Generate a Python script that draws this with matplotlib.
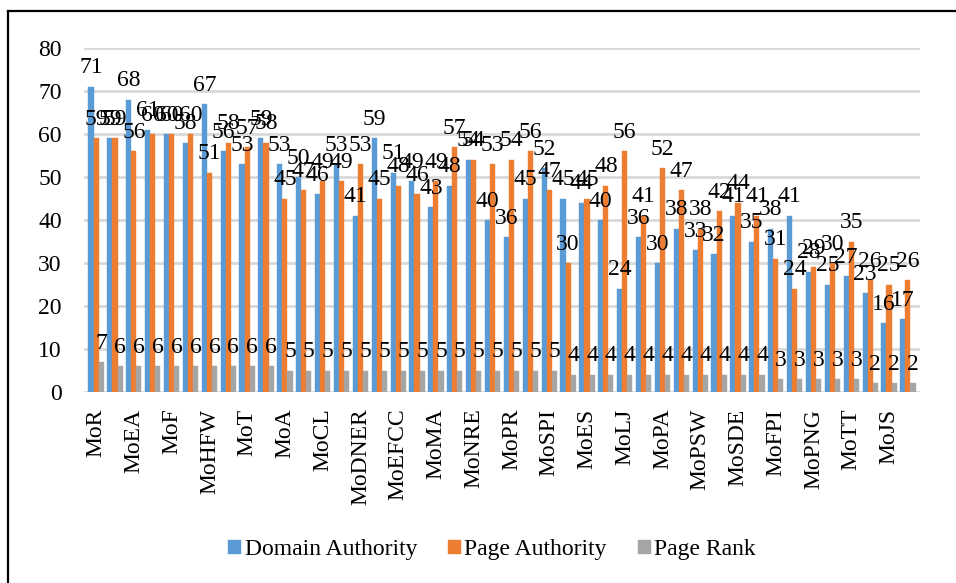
import numpy as np
import matplotlib
matplotlib.use("Agg")
import matplotlib.pyplot as plt
from matplotlib.lines import Line2D

plt.rcParams['font.family'] = ['Liberation Serif', 'DejaVu Serif']

# Ministry abbreviations printed on the axis (every second column is labelled)
tick_labels = ["MoR", "MoEA", "MoF", "MoHFW", "MoT", "MoA", "MoCL", "MoDNER",
               "MoEFCC", "MoMA", "MoNRE", "MoPR", "MoSPI", "MoES", "MoLJ",
               "MoPA", "MoPSW", "MoSDE", "MoFPI", "MoPNG", "MoTT", "MoJS"]

domain_authority = [71, 59, 68, 61, 60, 58, 67, 56, 53, 59, 53, 50, 46, 53, 41,
                    59, 51, 49, 43, 48, 54, 40, 36, 45, 52, 45, 44, 40, 24, 36,
                    30, 38, 33, 32, 41, 35, 38, 41, 28, 25, 27, 23, 16, 17]
page_authority = [59, 59, 56, 60, 60, 60, 51, 58, 57, 58, 45, 47, 49, 49, 53,
                  45, 48, 46, 49, 57, 54, 53, 54, 56, 47, 30, 45, 48, 56, 41,
                  52, 47, 38, 42, 44, 41, 31, 24, 29, 30, 35, 26, 25, 26]
page_rank = [7, 6, 6, 6, 6, 6, 6, 6, 6, 6, 5, 5, 5, 5, 5, 5, 5, 5, 5, 5, 5, 5,
             5, 5, 5, 4, 4, 4, 4, 4, 4, 4, 4, 4, 4, 4, 3, 3, 3, 3, 3, 2, 2, 2]

series = [("Domain Authority", domain_authority, "#5B9BD5"),
          ("Page Authority", page_authority, "#ED7D31"),
          ("Page Rank", page_rank, "#A5A5A5")]

fig = plt.figure(figsize=(9.56, 5.83), dpi=100)
ax = fig.add_axes([84 / 956, 1 - 392 / 583, 836 / 956, 344 / 583])

n = len(domain_authority)
x = np.arange(n)
width = 0.27
offsets = [-width, 0.0, width]

for (name, vals, color), off in zip(series, offsets):
    bars = ax.bar(x + off, vals, width=width, color=color, label=name,
                  edgecolor=color, linewidth=0.3, zorder=3)
    for b, v in zip(bars, vals):
        ax.annotate(str(v), (b.get_x() + b.get_width() / 2, b.get_height()),
                    xytext=(0, 6), textcoords="offset points",
                    ha="center", va="bottom", fontsize=17, color="black",
                    zorder=5)

ax.set_ylim(0, 80)
ax.set_xlim(-0.64, n - 1 + 0.64)
ax.set_yticks(np.arange(0, 81, 10))
ax.tick_params(axis="y", length=0, pad=16, labelsize=17)
ax.set_xticks(x[::2])
ax.set_xticklabels(tick_labels, rotation=90, fontsize=17)
ax.tick_params(axis="x", length=0, pad=12)
ax.grid(axis="y", color="#D9D9D9", linewidth=2, zorder=0)
for s in ax.spines.values():
    s.set_visible(False)

ax.legend(loc="center", bbox_to_anchor=(492 / 956, 1 - 550 / 583),
          bbox_transform=fig.transFigure, ncol=3, frameon=False,
          fontsize=17, handlelength=0.55, handleheight=0.55,
          handletextpad=0.15, columnspacing=1.3)

# outer frame around the figure
fig.add_artist(Line2D([7.5 / 956, 1.0], [1 - 10.5 / 583, 1 - 10.5 / 583],
                      transform=fig.transFigure, color="black", linewidth=1.6))
fig.add_artist(Line2D([7.5 / 956, 7.5 / 956], [0.0, 1 - 10.5 / 583],
                      transform=fig.transFigure, color="black", linewidth=1.6))

fig.savefig("out.png", dpi=100)
